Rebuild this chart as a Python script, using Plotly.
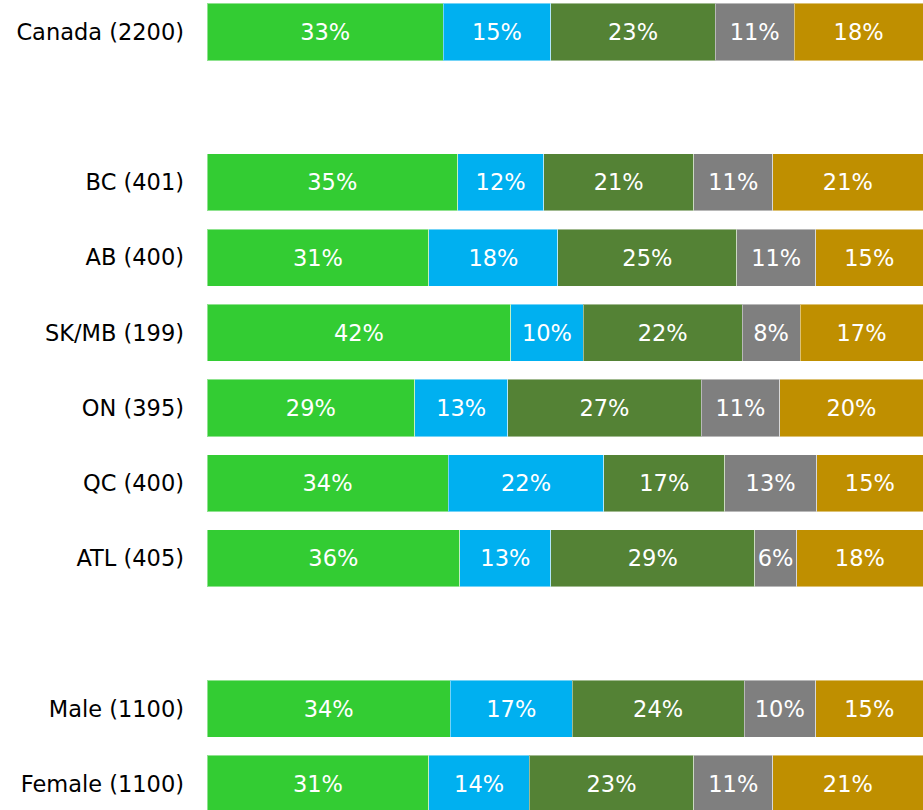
import plotly.graph_objects as go

# Row labels (region / group with sample size)
categories = ["Canada (2200)", "BC (401)", "AB (400)", "SK/MB (199)", "ON (395)",
              "QC (400)", "ATL (405)", "Male (1100)", "Female (1100)"]
# Row groups: national total, provinces, gender
groups = [1, 6, 2]

# Share of responses per segment (%)
seg1 = [33, 35, 31, 42, 29, 34, 36, 34, 31]
seg2 = [15, 12, 18, 10, 13, 22, 13, 17, 14]
seg3 = [23, 21, 25, 22, 27, 17, 29, 24, 23]
seg4 = [11, 11, 11, 8, 11, 13, 6, 10, 11]
seg5 = [18, 21, 15, 17, 20, 15, 18, 15, 21]

series = [seg1, seg2, seg3, seg4, seg5]
colors = ["#33CC33", "#00B0F0", "#548235", "#7F7F7F", "#BF8F00"]

# Row positions with one empty slot between groups
ypos = []
pos = 0
for g in groups:
    for _ in range(g):
        ypos.append(pos)
        pos += 1
    pos += 1

FONT = "DejaVu Sans"
SIZE = 22.5

fig = go.Figure()
for i, (vals, col) in enumerate(zip(series, colors)):
    fig.add_trace(go.Bar(
        y=ypos, x=vals, orientation="h", name=f"Segment {i + 1}",
        marker=dict(color=col, line=dict(color="rgba(255,255,255,0.45)", width=1)),
        width=0.76,
        text=vals, texttemplate="%{text}%", textposition="inside",
        insidetextanchor="middle", textangle=0,
        textfont=dict(family=FONT, size=SIZE, color="white"),
        showlegend=False, hoverinfo="skip",
    ))

fig.update_layout(
    barmode="stack", barnorm="percent",
    width=923, height=810,
    margin=dict(l=207, r=0, t=0, b=0),
    paper_bgcolor="white", plot_bgcolor="white",
    uniformtext=dict(minsize=SIZE, mode="show"),
    font=dict(family=FONT),
)
fig.update_xaxes(range=[0, 100], showgrid=False, zeroline=False,
                 showticklabels=False, showline=False, fixedrange=True)
fig.update_yaxes(range=[10.346, -0.4255], tickvals=ypos, ticktext=categories,
                 showgrid=False, zeroline=False, showline=False, ticks="",
                 ticklabelstandoff=22,
                 tickfont=dict(family=FONT, size=SIZE, color="#000000"))

fig.write_html("out.html")
